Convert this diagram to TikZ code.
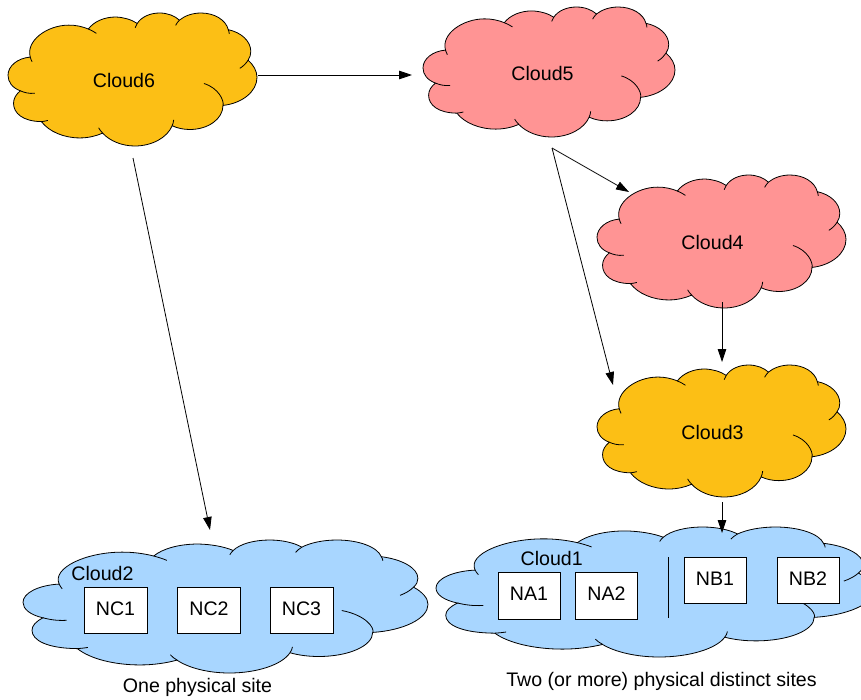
\documentclass[tikz,border=0pt]{standalone}
\usepackage{fontspec}
\setmainfont{Liberation Sans}
\usetikzlibrary{arrows.meta,calc}
\definecolor{cOrange}{HTML}{FCBF15}
\definecolor{cPink}{HTML}{FF9494}
\definecolor{cBlue}{HTML}{A8D6FF}
% OpenOffice-style cloud: #1,#2 = top-left corner, #3 = width, #4 = height, #5 = fill colour
\newcommand\ooCloud[5]{%
 \begin{scope}[shift={(#1,#2)},xscale=#3/216,yscale=#4/216]
  \filldraw[cloudline,fill=#5] (19.30,71.60)
   .. controls (15.30,44.90) and (34.00,19.70) .. (52.70,19.70)
   .. controls (58.60,19.50) and (64.70,22.10) .. (69.70,26.00)
   .. controls (74.50,13.90) and (83.40,6.50) .. (93.40,6.50)
   .. controls (100.04,6.90) and (107.10,10.50) .. (112.10,17.00)
   .. controls (115.70,6.30) and (123.30,0) .. (131.50,0)
   .. controls (138.40,0) and (144.70,4.60) .. (148.70,11.60)
   .. controls (153.30,4.40) and (160.20,0) .. (167.40,0)
   .. controls (179.10,0) and (189.00,11.30) .. (191.10,27.10)
   .. controls (202.40,31.50) and (210.60,45.80) .. (210.60,62.20)
   .. controls (210.60,67.20) and (210.00,72.00) .. (208.30,76.60)
   .. controls (213.10,84.60) and (216.00,94.50) .. (216.00,104.60)
   .. controls (216.00,127.50) and (203.10,146.80) .. (186.50,150.10)
   .. controls (186.50,172.00) and (173.70,189.20) .. (157.70,189.20)
   .. controls (152.20,189.20) and (147.00,187.10) .. (142.40,183.10)
   .. controls (138.20,202.40) and (124.90,216.00) .. (110.00,216.00)
   .. controls (98.90,216.00) and (88.40,207.90) .. (82.10,195.10)
   .. controls (76.20,200.00) and (69.30,202.90) .. (62.40,202.90)
   .. controls (48.50,202.90) and (35.70,192.80) .. (29.00,176.40)
   .. controls (13.00,176.00) and (4.80,163.00) .. (4.80,146.60)
   .. controls (4.80,139.00) and (6.90,132.10) .. (10.70,126.40)
   .. controls (3.80,121.60) and (0,112.10) .. (0,101.20)
   .. controls (0,85.90) and (8.40,73.30) .. (19.30,71.60) -- cycle;
  \draw[cloudline]
   (19.30,71.60) .. controls (19.50,74.10) and (20.40,76.90) .. (20.90,79.20)
   (69.70,26.00) .. controls (72.00,27.90) and (74.80,30.50) .. (76.70,33.10)
   (112.10,17.00) .. controls (111.30,19.10) and (110.80,21.60) .. (110.30,24.00)
   (148.70,11.60) .. controls (147.20,14.00) and (146.40,17.20) .. (145.40,20.10)
   (191.10,27.10) .. controls (191.30,28.90) and (192.30,32.90) .. (191.90,33.80)
   (208.30,76.60) .. controls (206.60,81.70) and (204.30,86.20) .. (201.10,89.90)
   (186.60,150.10) .. controls (187.40,142.00) and (182.80,122.00) .. (170.00,114.50)
   (142.40,183.10) .. controls (143.20,179.80) and (143.50,176.80) .. (143.70,173.60)
   (82.20,195.10) .. controls (80.60,192.50) and (79.60,189.50) .. (78.60,186.40)
   (29.00,176.40) .. controls (30.90,176.00) and (32.80,175.40) .. (34.60,174.50)
   (10.70,126.40) .. controls (14.00,129.00) and (17.80,131.30) .. (23.30,130.40);
 \end{scope}}
\begin{document}
\begin{tikzpicture}[x=1pt,y=-1pt,
  cloudline/.style={draw=black,line width=0.8pt},
  cloudbox/.style={inner sep=0pt,outer sep=0pt,draw=none},
  lbl/.style={font=\fontsize{19.6}{23}\selectfont,inner sep=0pt,anchor=base},
  nbox/.style={draw=black,fill=white,line width=0.8pt,minimum width=63pt,minimum height=46pt,
    inner sep=0pt,font=\fontsize{19.6}{23}\selectfont,text height=1.02em,text depth=0pt},
  arr/.style={line width=0.8pt,-{Triangle[length=13pt,width=8.5pt]}}]
\useasboundingbox (0,0) rectangle (861,699);
% clouds
\ooCloud{8}{13}{249}{133}{cOrange}
\ooCloud{423}{7}{252}{130}{cPink}
\ooCloud{597}{175}{249}{133}{cPink}
\ooCloud{597}{365}{249}{132}{cOrange}
\ooCloud{436}{527}{438}{130}{cBlue}
\ooCloud{23}{540}{405}{133}{cBlue}
% invisible cloud extents (for connectors)
\node[cloudbox,minimum width=249pt,minimum height=133pt] (c6) at (132.5,79.5) {};
\node[cloudbox,minimum width=252pt,minimum height=130pt] (c5) at (549,72) {};
\node[cloudbox,minimum width=249pt,minimum height=133pt] (c4) at (721.5,241.5) {};
\node[cloudbox,minimum width=249pt,minimum height=132pt] (c3) at (721.5,431) {};
\node[cloudbox,minimum width=438pt,minimum height=130pt] (c1) at (655,592) {};
\node[cloudbox,minimum width=405pt,minimum height=133pt] (c2) at (225.5,606.5) {};
% cloud labels
\node[lbl] (l6) at (124,87) {Cloud6};
\node[lbl] (l5) at (542.5,80) {Cloud5};
\node[lbl] (l4) at (712.5,249.3) {Cloud4};
\node[lbl] (l3) at (712.5,439.3) {Cloud3};
\node[lbl] (l1) at (551.7,565) {Cloud1};
\node[lbl] (l2) at (102.5,580) {Cloud2};
% boxes
\node[nbox] (nc1) at (115.5,610.5) {NC1};
\node[nbox] (nc2) at (209,610.5) {NC2};
\node[nbox] (nc3) at (301.5,610.5) {NC3};
\node[nbox,minimum width=62pt,minimum height=47pt] (na1) at (529,595.5) {NA1};
\node[nbox,minimum width=62pt,minimum height=47pt] (na2) at (606.5,595.5) {NA2};
\node[nbox,minimum width=62pt] (nb1) at (715,580) {NB1};
\node[nbox,minimum width=62pt] (nb2) at (808,580) {NB2};
\draw[line width=0.8pt] (668,557) -- (668,618);
% captions
\node[lbl] (cap1) at (197.5,692) {One physical site};
\node[lbl] (cap2) at (661.5,686) {Two (or more) physical distinct sites};
% connectors
\draw[arr] ($(c6.east)+(1,-4.5)$) -- ($(c5.west)+(-11,3)$);
\draw[arr] ($(c6.south)+(0.5,12)$) -- ($(c2.north)+(-15.5,-10)$);
\draw[arr] ($(c5.south)+(3,11)$) -- ($(c4.north west)+(32,17)$);
\draw[arr] ($(c5.south)+(3,11)$) -- ($(c3.north west)+(16,20)$);
\draw[arr] ($(c4.south)+(0.5,-6)$) -- ($(c3.north)+(0.5,-3)$);
\draw[arr] ($(c3.south)+(0.5,5)$) -- ($(c1.north)+(67,6)$);
\end{tikzpicture}
\end{document}
